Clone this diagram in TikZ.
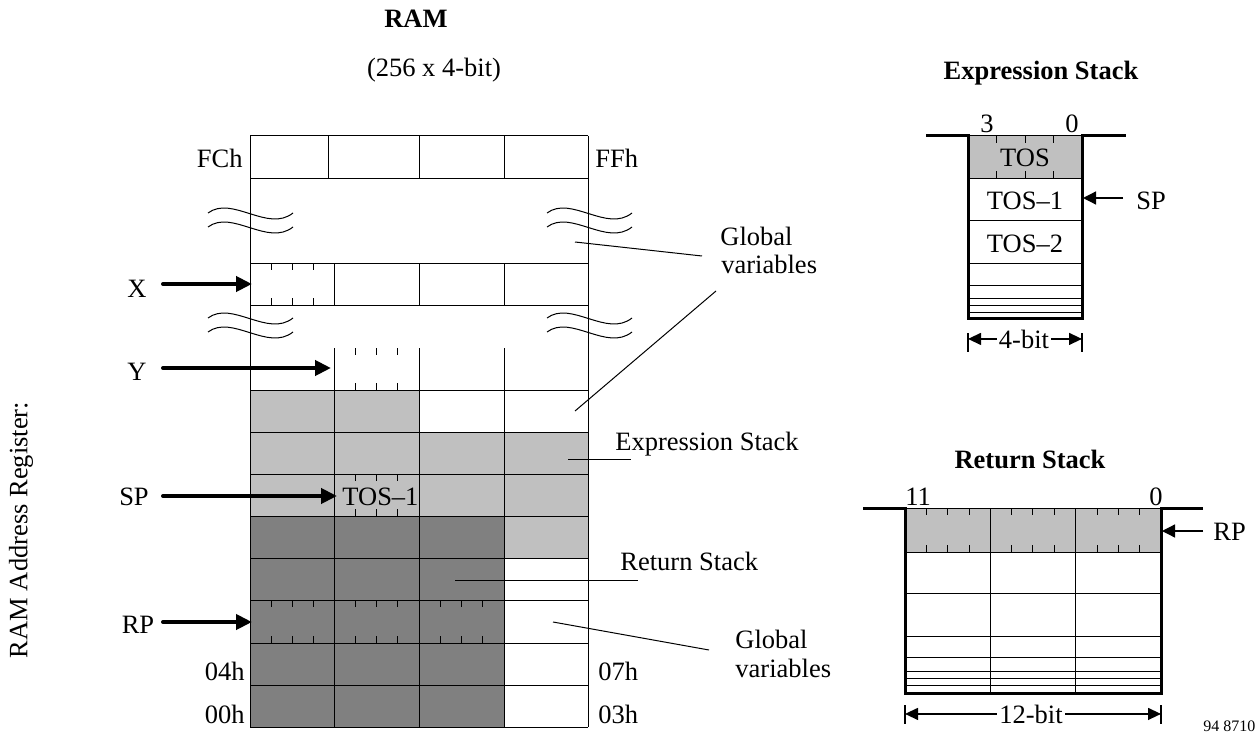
\documentclass[tikz,border=0pt]{standalone}
\usepackage{fontspec}
\setmainfont{Liberation Serif}
\usetikzlibrary{arrows.meta}
\definecolor{stackgray}{HTML}{C0C0C0}
\definecolor{retgray}{HTML}{808080}

\begin{document}
\begin{tikzpicture}[x=0.5pt, y=-0.5pt,
    every node/.style={inner sep=0, font=\fontsize{13.25}{15}\selectfont},
    lbl/.style={anchor=base},
    ttl/.style={anchor=base, font=\fontsize{13.25}{15}\selectfont\bfseries},
    grid/.style={line width=0.5pt},
    tick/.style={line width=0.5pt},
    outline/.style={line width=1.5pt},
    wave/.style={line width=0.5pt},
    leader/.style={line width=0.5pt},
    ptr/.style={line width=2pt, line cap=round, -{Triangle[length=8pt, width=7.5pt]}},
    thinptr/.style={line width=0.65pt, -{Triangle[length=6.5pt, width=6.5pt]}},
    dimptr/.style={line width=0.65pt, shorten <=1pt, -{Triangle[length=6.5pt, width=6pt]}}
]
\useasboundingbox (0,0) rectangle (1258,733);

% Titles
\node[ttl] (ramtitle) at (416,28) {RAM};
\node[lbl] (ramsize) at (434,77) {(256 x 4-bit)};
\node[rotate=90] (ramreg) at (21,530) {RAM Address Register:};

% RAM shading
\fill[stackgray] (250,390) rectangle (419,432);
\fill[stackgray] (250,432) rectangle (588,516);
\fill[stackgray] (504,516) rectangle (588,558);
\fill[retgray] (250,516) rectangle (504,727);

% RAM grid
\draw[grid] (250,136) -- (250,727) (588,136) -- (588,727);
\foreach \y in {136,178,263,305,390,432,474,516,558,600,643,685,727}
  \draw[grid] (250,\y) -- (588,\y);
\foreach \x in {328,419,504}
  \draw[grid] (\x,136) -- (\x,178);
\foreach \x in {334,419,504} {
  \draw[grid] (\x,263) -- (\x,305);
  \draw[grid] (\x,348) -- (\x,727);
}

% nibble ticks
\foreach \x in {271,292,313}
  \draw[tick] (\x,263) -- ++(0,7) (\x,305) -- ++(0,-7);
\foreach \x in {355,376,397} {
  \draw[tick] (\x,348) -- ++(0,7) (\x,390) -- ++(0,-7);
  \draw[tick] (\x,474) -- ++(0,7) (\x,516) -- ++(0,-7);
}
\foreach \c in {250,334,419}
  \foreach \k in {1,2,3}
    \draw[tick] (\c+\k*21,600) -- ++(0,7) (\c+\k*21,643) -- ++(0,-7);

% break marks
\foreach \dx in {0,339}
  \foreach \dy in {0,14,105,119}
    \draw[wave] (208+\dx,213+\dy) .. controls (232+\dx,195+\dy) and (268+\dx,233+\dy) .. (293+\dx,213+\dy);

% Addresses
\node[lbl, anchor=base east] (fch) at (243,168) {FCh};
\node[lbl, anchor=base west] (ffh) at (595,168) {FFh};
\node[lbl, anchor=base east] (h04) at (245,680) {04h};
\node[lbl, anchor=base east] (h00) at (245,723) {00h};
\node[lbl, anchor=base west] (h07) at (598,680) {07h};
\node[lbl, anchor=base west] (h03) at (598,723) {03h};
\node[lbl, anchor=base west] (tosram) at (342,505) {TOS--1};

% Address registers
\node[lbl] (regx) at (137,297) {X};
\node[lbl] (regy) at (137,380) {Y};
\node[lbl] (regsp) at (134,505) {SP};
\node[lbl] (regrp) at (138,633) {RP};
\coordinate (x-tail) at (163,284);  \coordinate (x-head) at (252,284);
\coordinate (y-tail) at (163,368);  \coordinate (y-head) at (331,368);
\coordinate (sp-tail) at (163,496); \coordinate (sp-head) at (337,496);
\coordinate (rp-tail) at (163,622); \coordinate (rp-head) at (252,622);
\draw[ptr] (x-tail) -- (x-head);
\draw[ptr] (y-tail) -- (y-head);
\draw[ptr] (sp-tail) -- (sp-head);
\draw[ptr] (rp-tail) -- (rp-head);

% Region labels
\node[lbl, anchor=base west] (gvtop1) at (720,245) {Global};
\node[lbl, anchor=base west] (gvtop2) at (721,273) {variables};
\node[lbl, anchor=base west] (exprlbl) at (615,450) {Expression Stack};
\node[lbl, anchor=base west] (retlbl) at (620,570) {Return Stack};
\node[lbl, anchor=base west] (gvbot1) at (735,648) {Global};
\node[lbl, anchor=base west] (gvbot2) at (735,677) {variables};
\coordinate (gv-a) at (575,242);  \coordinate (gv-a-end) at (702,256);
\coordinate (gv-b) at (575,411);  \coordinate (gv-b-end) at (716,291);
\coordinate (ex-a) at (568,459);  \coordinate (ex-a-end) at (631,459);
\coordinate (rt-a) at (455,580);  \coordinate (rt-a-end) at (638,580);
\coordinate (gv-c) at (553,622);  \coordinate (gv-c-end) at (709,650);
\draw[leader] (gv-a) -- (gv-a-end);
\draw[leader] (gv-b) -- (gv-b-end);
\draw[leader] (ex-a) -- (ex-a-end);
\draw[leader] (rt-a) -- (rt-a-end);
\draw[leader] (gv-c) -- (gv-c-end);

% Expression stack
\node[ttl] (esttl) at (1041,80) {Expression Stack};
\fill[stackgray] (968,136) rectangle (1082,178);
\foreach \y in {136,178,220,263,285,298,305,312}
  \draw[grid] (968,\y) -- (1082,\y);
\foreach \x in {996.5,1025,1053.5}
  \draw[tick] (\x,136) -- ++(0,7) (\x,178) -- ++(0,-7);
\draw[outline] (926,136) -- (968,136) -- (968,318) -- (1082,318) -- (1082,136) -- (1126,136);
\node[lbl] (esmsb) at (987,133) {3};
\node[lbl] (eslsb) at (1072,133) {0};
\node[lbl] (estos) at (1025,167) {TOS};
\node[lbl] (estos1) at (1025,209) {TOS--1};
\node[lbl] (estos2) at (1025,252) {TOS--2};
\node[lbl, anchor=base west] (essp) at (1136,209) {SP};
\coordinate (essp-tail) at (1123,198); \coordinate (essp-head) at (1083,198);
\draw[thinptr] (essp-tail) -- (essp-head);
\node[lbl] (eswidth) at (1024,348) {4-bit};
\coordinate (esleft) at (968,0); \coordinate (esright) at (1082,0);
\draw[grid, line width=0.7pt] (968,333) -- (968,352) (1082,333) -- (1082,352);
\draw[dimptr] (eswidth.west) -- (eswidth.west -| esleft);
\draw[dimptr] (eswidth.east) -- (eswidth.east -| esright);

% Return stack
\node[ttl] (rsttl) at (1030,468) {Return Stack};
\fill[stackgray] (905,508) rectangle (1161,552);
\foreach \y in {508,552,593,636,657,671,678,685}
  \draw[grid] (905,\y) -- (1161,\y);
\foreach \x in {990.3,1075.7}
  \draw[grid] (\x,508) -- (\x,693);
\foreach \c in {905,990.3,1075.7}
  \foreach \k in {1,2,3}
    \draw[tick] (\c+\k*21.33,508) -- ++(0,7) (\c+\k*21.33,552) -- ++(0,-7);
\draw[outline] (863,508) -- (905,508) -- (905,693) -- (1161,693) -- (1161,508) -- (1203,508);
\node[lbl, anchor=base west] (rsmsb) at (905,505) {11};
\node[lbl, anchor=base east] (rslsb) at (1163,505) {0};
\node[lbl, anchor=base west] (rsrp) at (1213,540) {RP};
\coordinate (rsrp-tail) at (1203,531); \coordinate (rsrp-head) at (1162,531);
\draw[thinptr] (rsrp-tail) -- (rsrp-head);
\node[lbl] (rswidth) at (1031,723) {12-bit};
\coordinate (rsleft) at (905,0); \coordinate (rsright) at (1161,0);
\draw[grid, line width=0.7pt] (905,705) -- (905,724) (1161,705) -- (1161,724);
\draw[dimptr] (rswidth.west) -- (rswidth.west -| rsleft);
\draw[dimptr] (rswidth.east) -- (rswidth.east -| rsright);

\node[anchor=base west, font=\fontsize{8}{9}\selectfont] (fignum) at (1203,731) {94 8710};
\end{tikzpicture}
\end{document}
